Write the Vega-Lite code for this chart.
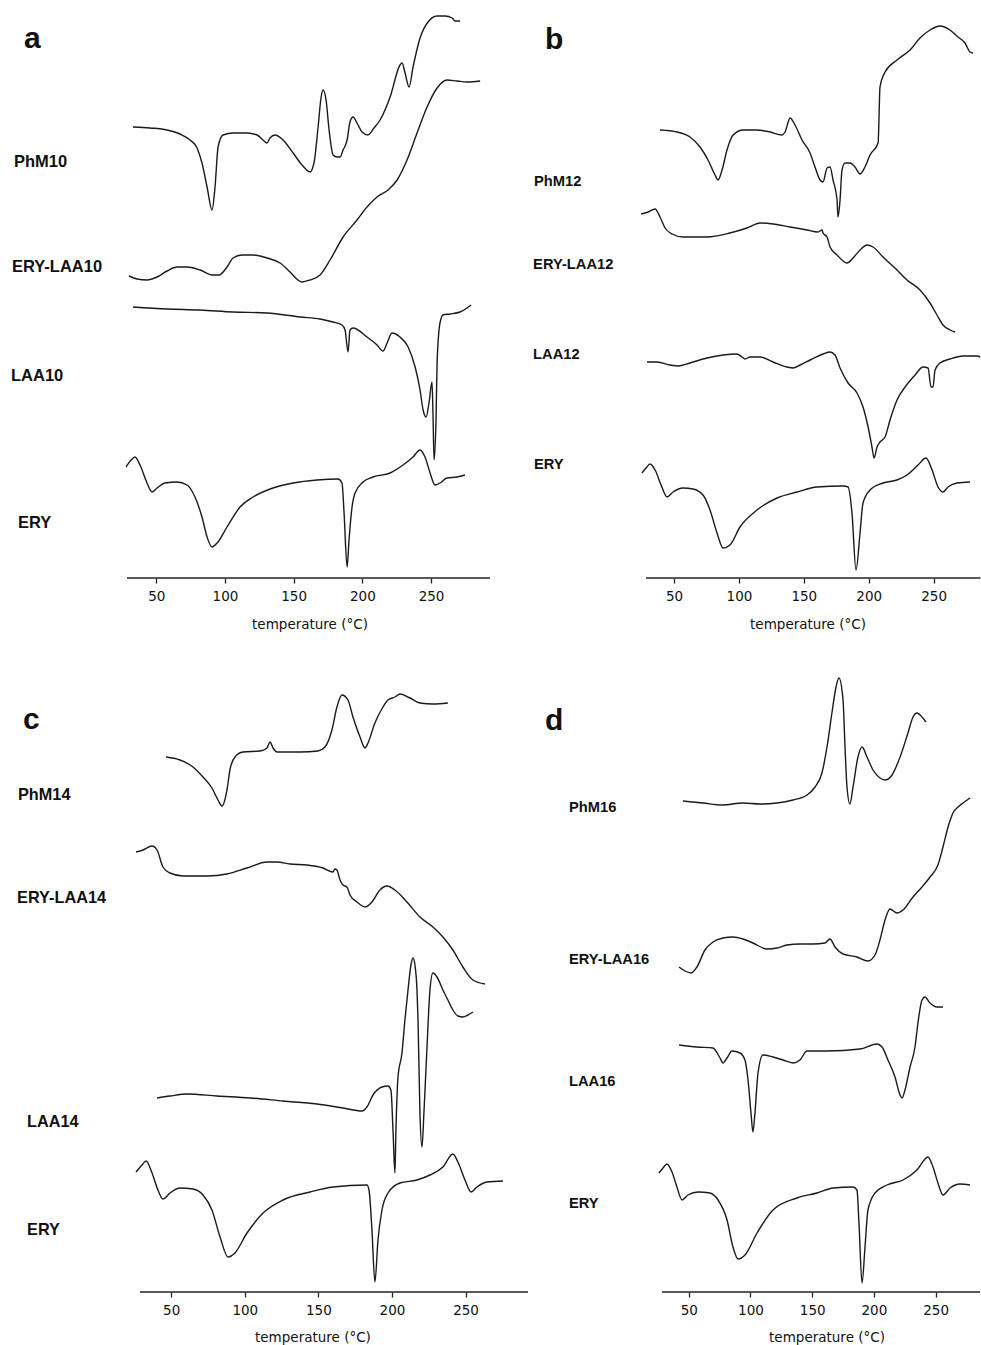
{
"$schema":"https://vega.github.io/schema/vega-lite/v6.json",
"padding":0,
"background":"white",
"columns":2,
"spacing":{"row":82,"column":0},
"bounds":"flush",
"config":{"view":{"stroke":null}},
"datasets":{
"a":[
{"s":"PhM10","T":33.1,"v":451},{"s":"PhM10","T":45.5,"v":450},{"s":"PhM10","T":57.9,"v":448},{"s":"PhM10","T":67.3,"v":444},{"s":"PhM10","T":74.6,"v":438},{"s":"PhM10","T":79.7,"v":430},{"s":"PhM10","T":83.3,"v":415},{"s":"PhM10","T":87.0,"v":391},{"s":"PhM10","T":90.6,"v":368},{"s":"PhM10","T":92.8,"v":391},{"s":"PhM10","T":95.0,"v":431},{"s":"PhM10","T":98.6,"v":443},{"s":"PhM10","T":105.9,"v":445},{"s":"PhM10","T":116.1,"v":445},{"s":"PhM10","T":123.4,"v":443},{"s":"PhM10","T":127.7,"v":438},{"s":"PhM10","T":130.6,"v":435},{"s":"PhM10","T":132.8,"v":440},{"s":"PhM10","T":136.5,"v":443},{"s":"PhM10","T":142.3,"v":438},{"s":"PhM10","T":149.6,"v":425},{"s":"PhM10","T":156.1,"v":413},{"s":"PhM10","T":161.9,"v":406},{"s":"PhM10","T":164.8,"v":415},{"s":"PhM10","T":167.8,"v":451},{"s":"PhM10","T":169.9,"v":480},{"s":"PhM10","T":171.4,"v":488},{"s":"PhM10","T":173.6,"v":478},{"s":"PhM10","T":175.8,"v":448},{"s":"PhM10","T":178.7,"v":423},{"s":"PhM10","T":181.6,"v":421},{"s":"PhM10","T":183.8,"v":421},{"s":"PhM10","T":186.0,"v":428},{"s":"PhM10","T":188.9,"v":438},{"s":"PhM10","T":191.0,"v":456},{"s":"PhM10","T":193.2,"v":461},{"s":"PhM10","T":196.1,"v":455},{"s":"PhM10","T":199.8,"v":446},{"s":"PhM10","T":204.1,"v":443},{"s":"PhM10","T":208.5,"v":450},{"s":"PhM10","T":212.9,"v":458},{"s":"PhM10","T":220.2,"v":481},{"s":"PhM10","T":227.4,"v":513},{"s":"PhM10","T":228.9,"v":515},{"s":"PhM10","T":231.1,"v":505},{"s":"PhM10","T":234.0,"v":491},{"s":"PhM10","T":236.9,"v":511},{"s":"PhM10","T":242.0,"v":540},{"s":"PhM10","T":247.8,"v":556},{"s":"PhM10","T":254.4,"v":562},{"s":"PhM10","T":260.2,"v":562},{"s":"PhM10","T":265.3,"v":560},{"s":"PhM10","T":267.5,"v":557},{"s":"PhM10","T":271.1,"v":557},
{"s":"ERY-LAA10","T":30.2,"v":302},{"s":"ERY-LAA10","T":36.0,"v":299},{"s":"ERY-LAA10","T":43.3,"v":298},{"s":"ERY-LAA10","T":50.6,"v":301},{"s":"ERY-LAA10","T":57.9,"v":307},{"s":"ERY-LAA10","T":65.1,"v":311},{"s":"ERY-LAA10","T":72.4,"v":311},{"s":"ERY-LAA10","T":81.9,"v":308},{"s":"ERY-LAA10","T":91.3,"v":303},{"s":"ERY-LAA10","T":95.7,"v":303},{"s":"ERY-LAA10","T":101.5,"v":311},{"s":"ERY-LAA10","T":105.9,"v":320},{"s":"ERY-LAA10","T":112.4,"v":323},{"s":"ERY-LAA10","T":120.5,"v":323},{"s":"ERY-LAA10","T":130.6,"v":320},{"s":"ERY-LAA10","T":140.1,"v":315},{"s":"ERY-LAA10","T":147.4,"v":306},{"s":"ERY-LAA10","T":153.2,"v":298},{"s":"ERY-LAA10","T":156.1,"v":296},{"s":"ERY-LAA10","T":161.9,"v":298},{"s":"ERY-LAA10","T":169.2,"v":303},{"s":"ERY-LAA10","T":176.5,"v":318},{"s":"ERY-LAA10","T":186.0,"v":341},{"s":"ERY-LAA10","T":196.1,"v":358},{"s":"ERY-LAA10","T":203.4,"v":371},{"s":"ERY-LAA10","T":210.7,"v":381},{"s":"ERY-LAA10","T":218.7,"v":388},{"s":"ERY-LAA10","T":225.3,"v":398},{"s":"ERY-LAA10","T":232.5,"v":418},{"s":"ERY-LAA10","T":239.8,"v":445},{"s":"ERY-LAA10","T":247.1,"v":471},{"s":"ERY-LAA10","T":254.4,"v":490},{"s":"ERY-LAA10","T":261.6,"v":498},{"s":"ERY-LAA10","T":268.9,"v":497},{"s":"ERY-LAA10","T":276.2,"v":496},{"s":"ERY-LAA10","T":285.7,"v":497},
{"s":"LAA10","T":33.1,"v":271},{"s":"LAA10","T":57.9,"v":269},{"s":"LAA10","T":81.9,"v":268},{"s":"LAA10","T":105.9,"v":266},{"s":"LAA10","T":130.6,"v":265},{"s":"LAA10","T":154.7,"v":261},{"s":"LAA10","T":169.2,"v":259},{"s":"LAA10","T":178.7,"v":256},{"s":"LAA10","T":185.2,"v":253},{"s":"LAA10","T":187.4,"v":248},{"s":"LAA10","T":189.6,"v":226},{"s":"LAA10","T":191.0,"v":248},{"s":"LAA10","T":193.2,"v":250},{"s":"LAA10","T":203.4,"v":241},{"s":"LAA10","T":210.7,"v":233},{"s":"LAA10","T":215.1,"v":227},{"s":"LAA10","T":218.0,"v":235},{"s":"LAA10","T":221.6,"v":245},{"s":"LAA10","T":227.4,"v":241},{"s":"LAA10","T":233.3,"v":231},{"s":"LAA10","T":238.4,"v":211},{"s":"LAA10","T":242.0,"v":188},{"s":"LAA10","T":244.2,"v":168},{"s":"LAA10","T":246.4,"v":161},{"s":"LAA10","T":248.5,"v":175},{"s":"LAA10","T":250.7,"v":196},{"s":"LAA10","T":251.5,"v":158},{"s":"LAA10","T":252.2,"v":118},{"s":"LAA10","T":253.6,"v":158},{"s":"LAA10","T":254.4,"v":215},{"s":"LAA10","T":256.5,"v":255},{"s":"LAA10","T":258.7,"v":263},{"s":"LAA10","T":263.8,"v":264},{"s":"LAA10","T":271.1,"v":266},{"s":"LAA10","T":276.2,"v":270},{"s":"LAA10","T":279.1,"v":273},
{"s":"ERY","T":28.0,"v":111},{"s":"ERY","T":31.7,"v":118},{"s":"ERY","T":34.6,"v":121},{"s":"ERY","T":38.2,"v":113},{"s":"ERY","T":43.3,"v":95},{"s":"ERY","T":46.9,"v":86},{"s":"ERY","T":50.6,"v":90},{"s":"ERY","T":56.4,"v":95},{"s":"ERY","T":65.1,"v":96},{"s":"ERY","T":72.4,"v":93},{"s":"ERY","T":78.2,"v":81},{"s":"ERY","T":83.3,"v":61},{"s":"ERY","T":87.0,"v":41},{"s":"ERY","T":90.6,"v":31},{"s":"ERY","T":94.3,"v":35},{"s":"ERY","T":101.5,"v":51},{"s":"ERY","T":111.0,"v":71},{"s":"ERY","T":120.5,"v":81},{"s":"ERY","T":135.0,"v":90},{"s":"ERY","T":149.6,"v":95},{"s":"ERY","T":167.0,"v":98},{"s":"ERY","T":182.3,"v":99},{"s":"ERY","T":185.2,"v":95},{"s":"ERY","T":186.7,"v":65},{"s":"ERY","T":188.9,"v":11},{"s":"ERY","T":190.3,"v":38},{"s":"ERY","T":192.5,"v":71},{"s":"ERY","T":194.7,"v":85},{"s":"ERY","T":200.5,"v":96},{"s":"ERY","T":207.8,"v":101},{"s":"ERY","T":220.2,"v":105},{"s":"ERY","T":229.6,"v":113},{"s":"ERY","T":236.9,"v":121},{"s":"ERY","T":242.0,"v":128},{"s":"ERY","T":245.6,"v":121},{"s":"ERY","T":249.3,"v":105},{"s":"ERY","T":252.9,"v":93},{"s":"ERY","T":256.5,"v":95},{"s":"ERY","T":261.6,"v":100},{"s":"ERY","T":268.9,"v":101},{"s":"ERY","T":274.7,"v":103}
],
"b":[
{"s":"PhM12","T":39.2,"v":448},{"s":"PhM12","T":52.3,"v":446},{"s":"PhM12","T":62.3,"v":441},{"s":"PhM12","T":70.0,"v":431},{"s":"PhM12","T":76.2,"v":418},{"s":"PhM12","T":81.6,"v":403},{"s":"PhM12","T":83.9,"v":398},{"s":"PhM12","T":87.0,"v":408},{"s":"PhM12","T":90.8,"v":428},{"s":"PhM12","T":95.5,"v":443},{"s":"PhM12","T":103.2,"v":448},{"s":"PhM12","T":113.9,"v":448},{"s":"PhM12","T":124.0,"v":446},{"s":"PhM12","T":133.2,"v":443},{"s":"PhM12","T":135.5,"v":446},{"s":"PhM12","T":139.4,"v":460},{"s":"PhM12","T":143.2,"v":453},{"s":"PhM12","T":148.6,"v":438},{"s":"PhM12","T":154.8,"v":425},{"s":"PhM12","T":158.6,"v":411},{"s":"PhM12","T":162.5,"v":398},{"s":"PhM12","T":164.8,"v":396},{"s":"PhM12","T":167.9,"v":410},{"s":"PhM12","T":170.2,"v":411},{"s":"PhM12","T":172.5,"v":398},{"s":"PhM12","T":175.6,"v":378},{"s":"PhM12","T":176.3,"v":361},{"s":"PhM12","T":177.9,"v":378},{"s":"PhM12","T":179.4,"v":408},{"s":"PhM12","T":181.7,"v":415},{"s":"PhM12","T":185.6,"v":415},{"s":"PhM12","T":189.4,"v":411},{"s":"PhM12","T":193.3,"v":404},{"s":"PhM12","T":197.1,"v":411},{"s":"PhM12","T":201.0,"v":423},{"s":"PhM12","T":207.2,"v":435},{"s":"PhM12","T":208.7,"v":491},{"s":"PhM12","T":212.6,"v":506},{"s":"PhM12","T":221.8,"v":518},{"s":"PhM12","T":231.8,"v":528},{"s":"PhM12","T":239.5,"v":540},{"s":"PhM12","T":247.2,"v":548},{"s":"PhM12","T":254.9,"v":552},{"s":"PhM12","T":262.6,"v":548},{"s":"PhM12","T":268.8,"v":541},{"s":"PhM12","T":274.2,"v":535},{"s":"PhM12","T":278.0,"v":526},{"s":"PhM12","T":280.4,"v":525},
{"s":"ERY-LAA12","T":24.6,"v":364},{"s":"ERY-LAA12","T":30.0,"v":366},{"s":"ERY-LAA12","T":35.4,"v":369},{"s":"ERY-LAA12","T":39.2,"v":361},{"s":"ERY-LAA12","T":43.1,"v":350},{"s":"ERY-LAA12","T":48.5,"v":344},{"s":"ERY-LAA12","T":56.9,"v":341},{"s":"ERY-LAA12","T":75.4,"v":341},{"s":"ERY-LAA12","T":93.1,"v":345},{"s":"ERY-LAA12","T":106.2,"v":350},{"s":"ERY-LAA12","T":116.3,"v":355},{"s":"ERY-LAA12","T":126.3,"v":354},{"s":"ERY-LAA12","T":139.4,"v":351},{"s":"ERY-LAA12","T":152.5,"v":348},{"s":"ERY-LAA12","T":160.9,"v":346},{"s":"ERY-LAA12","T":164.0,"v":348},{"s":"ERY-LAA12","T":164.8,"v":345},{"s":"ERY-LAA12","T":167.9,"v":341},{"s":"ERY-LAA12","T":170.2,"v":331},{"s":"ERY-LAA12","T":175.6,"v":323},{"s":"ERY-LAA12","T":183.3,"v":315},{"s":"ERY-LAA12","T":187.9,"v":320},{"s":"ERY-LAA12","T":193.3,"v":328},{"s":"ERY-LAA12","T":198.7,"v":333},{"s":"ERY-LAA12","T":203.3,"v":331},{"s":"ERY-LAA12","T":211.0,"v":321},{"s":"ERY-LAA12","T":221.8,"v":308},{"s":"ERY-LAA12","T":229.5,"v":298},{"s":"ERY-LAA12","T":239.5,"v":288},{"s":"ERY-LAA12","T":247.2,"v":275},{"s":"ERY-LAA12","T":252.6,"v":263},{"s":"ERY-LAA12","T":257.2,"v":253},{"s":"ERY-LAA12","T":262.6,"v":248},{"s":"ERY-LAA12","T":266.5,"v":246},
{"s":"LAA12","T":29.2,"v":216},{"s":"LAA12","T":36.9,"v":216},{"s":"LAA12","T":46.9,"v":213},{"s":"LAA12","T":53.1,"v":212},{"s":"LAA12","T":62.3,"v":215},{"s":"LAA12","T":75.4,"v":220},{"s":"LAA12","T":87.8,"v":223},{"s":"LAA12","T":98.5,"v":224},{"s":"LAA12","T":102.4,"v":221},{"s":"LAA12","T":104.7,"v":219},{"s":"LAA12","T":108.6,"v":221},{"s":"LAA12","T":116.3,"v":221},{"s":"LAA12","T":126.3,"v":216},{"s":"LAA12","T":137.1,"v":211},{"s":"LAA12","T":141.7,"v":210},{"s":"LAA12","T":147.1,"v":213},{"s":"LAA12","T":154.8,"v":218},{"s":"LAA12","T":164.8,"v":224},{"s":"LAA12","T":170.2,"v":226},{"s":"LAA12","T":174.0,"v":223},{"s":"LAA12","T":177.9,"v":210},{"s":"LAA12","T":184.1,"v":195},{"s":"LAA12","T":191.0,"v":185},{"s":"LAA12","T":195.6,"v":171},{"s":"LAA12","T":199.5,"v":151},{"s":"LAA12","T":202.5,"v":131},{"s":"LAA12","T":204.1,"v":120},{"s":"LAA12","T":206.4,"v":131},{"s":"LAA12","T":208.7,"v":136},{"s":"LAA12","T":212.6,"v":141},{"s":"LAA12","T":216.4,"v":158},{"s":"LAA12","T":221.8,"v":178},{"s":"LAA12","T":228.0,"v":191},{"s":"LAA12","T":235.7,"v":203},{"s":"LAA12","T":241.8,"v":211},{"s":"LAA12","T":245.7,"v":210},{"s":"LAA12","T":248.0,"v":191},{"s":"LAA12","T":249.5,"v":191},{"s":"LAA12","T":251.1,"v":208},{"s":"LAA12","T":254.9,"v":215},{"s":"LAA12","T":262.6,"v":219},{"s":"LAA12","T":272.6,"v":222},{"s":"LAA12","T":283.4,"v":222},{"s":"LAA12","T":285.8,"v":221},
{"s":"ERY","T":25.3,"v":105},{"s":"ERY","T":28.4,"v":110},{"s":"ERY","T":31.5,"v":114},{"s":"ERY","T":35.4,"v":108},{"s":"ERY","T":40.0,"v":93},{"s":"ERY","T":44.6,"v":81},{"s":"ERY","T":49.2,"v":86},{"s":"ERY","T":56.9,"v":90},{"s":"ERY","T":64.6,"v":89},{"s":"ERY","T":72.3,"v":83},{"s":"ERY","T":77.7,"v":68},{"s":"ERY","T":83.1,"v":45},{"s":"ERY","T":87.8,"v":30},{"s":"ERY","T":93.1,"v":33},{"s":"ERY","T":100.8,"v":51},{"s":"ERY","T":113.9,"v":68},{"s":"ERY","T":129.4,"v":80},{"s":"ERY","T":144.8,"v":86},{"s":"ERY","T":160.2,"v":91},{"s":"ERY","T":180.2,"v":92},{"s":"ERY","T":184.1,"v":91},{"s":"ERY","T":187.1,"v":65},{"s":"ERY","T":190.2,"v":8},{"s":"ERY","T":193.3,"v":45},{"s":"ERY","T":195.6,"v":75},{"s":"ERY","T":201.0,"v":88},{"s":"ERY","T":211.0,"v":95},{"s":"ERY","T":221.8,"v":98},{"s":"ERY","T":229.5,"v":103},{"s":"ERY","T":238.0,"v":113},{"s":"ERY","T":244.1,"v":120},{"s":"ERY","T":248.8,"v":108},{"s":"ERY","T":253.4,"v":91},{"s":"ERY","T":257.2,"v":86},{"s":"ERY","T":261.1,"v":91},{"s":"ERY","T":268.0,"v":95},{"s":"ERY","T":278.0,"v":96}
],
"c":[
{"s":"PhM14","T":46.5,"v":535},{"s":"PhM14","T":56.0,"v":532},{"s":"PhM14","T":64.8,"v":525},{"s":"PhM14","T":71.6,"v":515},{"s":"PhM14","T":77.7,"v":504},{"s":"PhM14","T":81.8,"v":492},{"s":"PhM14","T":84.5,"v":486},{"s":"PhM14","T":87.9,"v":502},{"s":"PhM14","T":89.9,"v":522},{"s":"PhM14","T":93.3,"v":535},{"s":"PhM14","T":98.8,"v":540},{"s":"PhM14","T":110.3,"v":541},{"s":"PhM14","T":115.1,"v":544},{"s":"PhM14","T":117.1,"v":550},{"s":"PhM14","T":119.2,"v":544},{"s":"PhM14","T":121.9,"v":540},{"s":"PhM14","T":137.5,"v":540},{"s":"PhM14","T":149.7,"v":541},{"s":"PhM14","T":154.5,"v":545},{"s":"PhM14","T":159.2,"v":562},{"s":"PhM14","T":162.6,"v":585},{"s":"PhM14","T":166.0,"v":597},{"s":"PhM14","T":170.1,"v":592},{"s":"PhM14","T":173.5,"v":575},{"s":"PhM14","T":178.3,"v":555},{"s":"PhM14","T":181.7,"v":544},{"s":"PhM14","T":183.7,"v":549},{"s":"PhM14","T":188.4,"v":569},{"s":"PhM14","T":193.9,"v":585},{"s":"PhM14","T":197.3,"v":592},{"s":"PhM14","T":202.0,"v":595},{"s":"PhM14","T":205.4,"v":598},{"s":"PhM14","T":212.2,"v":594},{"s":"PhM14","T":219.0,"v":589},{"s":"PhM14","T":227.8,"v":588},{"s":"PhM14","T":238.0,"v":589},
{"s":"ERY-LAA14","T":26.1,"v":440},{"s":"ERY-LAA14","T":30.9,"v":442},{"s":"ERY-LAA14","T":37.0,"v":446},{"s":"ERY-LAA14","T":40.4,"v":442},{"s":"ERY-LAA14","T":44.4,"v":425},{"s":"ERY-LAA14","T":49.2,"v":419},{"s":"ERY-LAA14","T":58.0,"v":416},{"s":"ERY-LAA14","T":74.3,"v":416},{"s":"ERY-LAA14","T":87.9,"v":418},{"s":"ERY-LAA14","T":101.5,"v":424},{"s":"ERY-LAA14","T":115.1,"v":430},{"s":"ERY-LAA14","T":121.9,"v":430},{"s":"ERY-LAA14","T":130.7,"v":428},{"s":"ERY-LAA14","T":142.3,"v":427},{"s":"ERY-LAA14","T":153.1,"v":424},{"s":"ERY-LAA14","T":159.9,"v":420},{"s":"ERY-LAA14","T":161.3,"v":423},{"s":"ERY-LAA14","T":162.6,"v":422},{"s":"ERY-LAA14","T":164.7,"v":412},{"s":"ERY-LAA14","T":166.7,"v":407},{"s":"ERY-LAA14","T":169.4,"v":405},{"s":"ERY-LAA14","T":171.5,"v":397},{"s":"ERY-LAA14","T":176.2,"v":390},{"s":"ERY-LAA14","T":181.7,"v":385},{"s":"ERY-LAA14","T":186.4,"v":390},{"s":"ERY-LAA14","T":191.8,"v":402},{"s":"ERY-LAA14","T":196.6,"v":406},{"s":"ERY-LAA14","T":202.0,"v":402},{"s":"ERY-LAA14","T":210.2,"v":390},{"s":"ERY-LAA14","T":219.0,"v":375},{"s":"ERY-LAA14","T":227.8,"v":365},{"s":"ERY-LAA14","T":234.6,"v":355},{"s":"ERY-LAA14","T":241.4,"v":342},{"s":"ERY-LAA14","T":248.2,"v":325},{"s":"ERY-LAA14","T":255.0,"v":312},{"s":"ERY-LAA14","T":263.2,"v":308},
{"s":"LAA14","T":40.4,"v":194},{"s":"LAA14","T":49.2,"v":196},{"s":"LAA14","T":60.7,"v":198},{"s":"LAA14","T":81.1,"v":196},{"s":"LAA14","T":103.5,"v":194},{"s":"LAA14","T":126.0,"v":191},{"s":"LAA14","T":149.0,"v":188},{"s":"LAA14","T":166.7,"v":184},{"s":"LAA14","T":179.6,"v":181},{"s":"LAA14","T":183.0,"v":185},{"s":"LAA14","T":187.1,"v":197},{"s":"LAA14","T":193.2,"v":205},{"s":"LAA14","T":197.3,"v":206},{"s":"LAA14","T":199.3,"v":202},{"s":"LAA14","T":200.7,"v":162},{"s":"LAA14","T":202.0,"v":119},{"s":"LAA14","T":202.7,"v":162},{"s":"LAA14","T":204.1,"v":215},{"s":"LAA14","T":206.8,"v":239},{"s":"LAA14","T":208.8,"v":272},{"s":"LAA14","T":210.9,"v":302},{"s":"LAA14","T":212.9,"v":327},{"s":"LAA14","T":214.3,"v":334},{"s":"LAA14","T":215.6,"v":327},{"s":"LAA14","T":217.0,"v":302},{"s":"LAA14","T":217.7,"v":272},{"s":"LAA14","T":219.0,"v":179},{"s":"LAA14","T":220.4,"v":145},{"s":"LAA14","T":221.7,"v":179},{"s":"LAA14","T":223.8,"v":245},{"s":"LAA14","T":225.8,"v":302},{"s":"LAA14","T":227.8,"v":319},{"s":"LAA14","T":230.6,"v":315},{"s":"LAA14","T":234.6,"v":302},{"s":"LAA14","T":238.0,"v":292},{"s":"LAA14","T":241.4,"v":282},{"s":"LAA14","T":244.8,"v":276},{"s":"LAA14","T":248.2,"v":275},{"s":"LAA14","T":251.6,"v":277},{"s":"LAA14","T":255.0,"v":280},
{"s":"ERY","T":26.1,"v":120},{"s":"ERY","T":30.2,"v":127},{"s":"ERY","T":32.9,"v":131},{"s":"ERY","T":37.0,"v":119},{"s":"ERY","T":41.0,"v":102},{"s":"ERY","T":44.4,"v":93},{"s":"ERY","T":49.2,"v":99},{"s":"ERY","T":56.0,"v":104},{"s":"ERY","T":64.8,"v":103},{"s":"ERY","T":71.6,"v":97},{"s":"ERY","T":77.7,"v":82},{"s":"ERY","T":83.2,"v":55},{"s":"ERY","T":88.6,"v":35},{"s":"ERY","T":93.3,"v":39},{"s":"ERY","T":101.5,"v":59},{"s":"ERY","T":112.4,"v":79},{"s":"ERY","T":126.0,"v":92},{"s":"ERY","T":144.3,"v":100},{"s":"ERY","T":159.9,"v":105},{"s":"ERY","T":183.0,"v":107},{"s":"ERY","T":184.4,"v":102},{"s":"ERY","T":186.4,"v":62},{"s":"ERY","T":188.4,"v":10},{"s":"ERY","T":190.5,"v":52},{"s":"ERY","T":193.2,"v":82},{"s":"ERY","T":197.3,"v":99},{"s":"ERY","T":205.4,"v":109},{"s":"ERY","T":217.0,"v":112},{"s":"ERY","T":225.8,"v":117},{"s":"ERY","T":234.6,"v":125},{"s":"ERY","T":241.4,"v":138},{"s":"ERY","T":244.8,"v":130},{"s":"ERY","T":249.6,"v":112},{"s":"ERY","T":253.7,"v":100},{"s":"ERY","T":257.7,"v":105},{"s":"ERY","T":264.5,"v":110},{"s":"ERY","T":275.4,"v":111}
],
"d":[
{"s":"PhM16","T":45.3,"v":491},{"s":"PhM16","T":61.5,"v":489},{"s":"PhM16","T":76.9,"v":487},{"s":"PhM16","T":93.9,"v":489},{"s":"PhM16","T":107.7,"v":488},{"s":"PhM16","T":121.5,"v":489},{"s":"PhM16","T":134.4,"v":492},{"s":"PhM16","T":145.8,"v":497},{"s":"PhM16","T":152.3,"v":505},{"s":"PhM16","T":157.9,"v":519},{"s":"PhM16","T":162.0,"v":545},{"s":"PhM16","T":166.0,"v":579},{"s":"PhM16","T":169.3,"v":605},{"s":"PhM16","T":171.7,"v":614},{"s":"PhM16","T":175.0,"v":592},{"s":"PhM16","T":176.6,"v":545},{"s":"PhM16","T":178.2,"v":505},{"s":"PhM16","T":180.6,"v":488},{"s":"PhM16","T":183.1,"v":505},{"s":"PhM16","T":187.1,"v":535},{"s":"PhM16","T":190.4,"v":545},{"s":"PhM16","T":194.4,"v":535},{"s":"PhM16","T":199.3,"v":522},{"s":"PhM16","T":204.9,"v":514},{"s":"PhM16","T":209.0,"v":512},{"s":"PhM16","T":214.7,"v":517},{"s":"PhM16","T":221.2,"v":535},{"s":"PhM16","T":227.6,"v":559},{"s":"PhM16","T":231.7,"v":575},{"s":"PhM16","T":234.9,"v":579},{"s":"PhM16","T":239.0,"v":575},{"s":"PhM16","T":242.2,"v":570},
{"s":"ERY-LAA16","T":42.1,"v":325},{"s":"ERY-LAA16","T":46.9,"v":321},{"s":"ERY-LAA16","T":51.8,"v":319},{"s":"ERY-LAA16","T":56.6,"v":325},{"s":"ERY-LAA16","T":63.1,"v":342},{"s":"ERY-LAA16","T":69.6,"v":350},{"s":"ERY-LAA16","T":77.7,"v":354},{"s":"ERY-LAA16","T":85.8,"v":355},{"s":"ERY-LAA16","T":93.9,"v":353},{"s":"ERY-LAA16","T":102.0,"v":349},{"s":"ERY-LAA16","T":113.4,"v":343},{"s":"ERY-LAA16","T":121.5,"v":344},{"s":"ERY-LAA16","T":129.6,"v":347},{"s":"ERY-LAA16","T":140.1,"v":348},{"s":"ERY-LAA16","T":150.6,"v":348},{"s":"ERY-LAA16","T":160.4,"v":349},{"s":"ERY-LAA16","T":164.4,"v":353},{"s":"ERY-LAA16","T":168.5,"v":345},{"s":"ERY-LAA16","T":175.0,"v":338},{"s":"ERY-LAA16","T":186.3,"v":335},{"s":"ERY-LAA16","T":195.2,"v":331},{"s":"ERY-LAA16","T":200.9,"v":337},{"s":"ERY-LAA16","T":204.9,"v":352},{"s":"ERY-LAA16","T":209.0,"v":372},{"s":"ERY-LAA16","T":213.0,"v":383},{"s":"ERY-LAA16","T":218.7,"v":379},{"s":"ERY-LAA16","T":223.6,"v":382},{"s":"ERY-LAA16","T":231.7,"v":395},{"s":"ERY-LAA16","T":239.0,"v":405},{"s":"ERY-LAA16","T":245.5,"v":415},{"s":"ERY-LAA16","T":251.9,"v":427},{"s":"ERY-LAA16","T":256.0,"v":445},{"s":"ERY-LAA16","T":260.1,"v":465},{"s":"ERY-LAA16","T":264.1,"v":479},{"s":"ERY-LAA16","T":268.2,"v":485},{"s":"ERY-LAA16","T":272.2,"v":489},{"s":"ERY-LAA16","T":277.9,"v":494},
{"s":"LAA16","T":42.1,"v":247},{"s":"LAA16","T":56.6,"v":245},{"s":"LAA16","T":69.6,"v":244},{"s":"LAA16","T":75.3,"v":234},{"s":"LAA16","T":77.7,"v":229},{"s":"LAA16","T":81.0,"v":234},{"s":"LAA16","T":85.0,"v":241},{"s":"LAA16","T":91.5,"v":239},{"s":"LAA16","T":95.5,"v":232},{"s":"LAA16","T":98.0,"v":212},{"s":"LAA16","T":100.4,"v":179},{"s":"LAA16","T":102.0,"v":160},{"s":"LAA16","T":103.6,"v":179},{"s":"LAA16","T":106.1,"v":219},{"s":"LAA16","T":110.1,"v":237},{"s":"LAA16","T":118.2,"v":235},{"s":"LAA16","T":126.3,"v":232},{"s":"LAA16","T":134.4,"v":229},{"s":"LAA16","T":140.1,"v":232},{"s":"LAA16","T":145.8,"v":241},{"s":"LAA16","T":162.0,"v":241},{"s":"LAA16","T":188.7,"v":243},{"s":"LAA16","T":202.5,"v":248},{"s":"LAA16","T":206.6,"v":245},{"s":"LAA16","T":211.4,"v":232},{"s":"LAA16","T":217.1,"v":215},{"s":"LAA16","T":221.2,"v":197},{"s":"LAA16","T":222.8,"v":194},{"s":"LAA16","T":225.2,"v":202},{"s":"LAA16","T":229.3,"v":225},{"s":"LAA16","T":233.3,"v":245},{"s":"LAA16","T":235.7,"v":269},{"s":"LAA16","T":239.0,"v":292},{"s":"LAA16","T":241.4,"v":295},{"s":"LAA16","T":245.5,"v":289},{"s":"LAA16","T":251.1,"v":285},{"s":"LAA16","T":256.0,"v":285},
{"s":"ERY","T":25.8,"v":119},{"s":"ERY","T":29.1,"v":124},{"s":"ERY","T":32.3,"v":128},{"s":"ERY","T":36.4,"v":120},{"s":"ERY","T":40.4,"v":105},{"s":"ERY","T":44.5,"v":92},{"s":"ERY","T":49.3,"v":97},{"s":"ERY","T":57.5,"v":100},{"s":"ERY","T":67.2,"v":99},{"s":"ERY","T":73.7,"v":92},{"s":"ERY","T":81.0,"v":72},{"s":"ERY","T":85.8,"v":45},{"s":"ERY","T":89.9,"v":33},{"s":"ERY","T":95.5,"v":37},{"s":"ERY","T":105.3,"v":59},{"s":"ERY","T":118.2,"v":82},{"s":"ERY","T":137.7,"v":94},{"s":"ERY","T":153.9,"v":99},{"s":"ERY","T":166.9,"v":104},{"s":"ERY","T":183.1,"v":105},{"s":"ERY","T":186.3,"v":102},{"s":"ERY","T":187.9,"v":69},{"s":"ERY","T":190.4,"v":9},{"s":"ERY","T":192.8,"v":45},{"s":"ERY","T":195.2,"v":82},{"s":"ERY","T":200.9,"v":99},{"s":"ERY","T":210.6,"v":107},{"s":"ERY","T":223.6,"v":112},{"s":"ERY","T":234.9,"v":122},{"s":"ERY","T":243.8,"v":135},{"s":"ERY","T":247.9,"v":125},{"s":"ERY","T":251.9,"v":109},{"s":"ERY","T":256.0,"v":97},{"s":"ERY","T":261.7,"v":104},{"s":"ERY","T":269.8,"v":108},{"s":"ERY","T":277.9,"v":107}
],
"la":[{"t":"PhM10","T":-53.5,"v":416},{"t":"ERY-LAA10","T":-55.0,"v":311},{"t":"LAA10","T":-55.7,"v":202},{"t":"ERY","T":-50.6,"v":55}],
"lb":[{"t":"PhM12","T":-57.9,"v":396},{"t":"ERY-LAA12","T":-58.6,"v":313},{"t":"LAA12","T":-58.6,"v":223},{"t":"ERY","T":-57.9,"v":113}],
"lc":[{"t":"PhM14","T":-54.1,"v":497},{"t":"ERY-LAA14","T":-54.7,"v":394},{"t":"LAA14","T":-47.9,"v":170},{"t":"ERY","T":-47.9,"v":62}],
"ld":[{"t":"PhM16","T":-47.1,"v":484},{"t":"ERY-LAA16","T":-47.1,"v":332},{"t":"LAA16","T":-47.1,"v":210},{"t":"ERY","T":-47.1,"v":88}]
},
"concat":[
{"width":490,"height":578,
"encoding":{"x":{"field":"T","type":"quantitative","scale":{"domain":[-63.7,292.9],"nice":false,"zero":false},"axis":{"values":[50,100,150,200,250],"domain":false,"grid":false,"title":null,"labelFont":"DejaVu Sans","labelFontSize":13.5,"labelColor":"#111","tickColor":"#222","tickSize":5,"tickWidth":1.3,"labelPadding":6,"labelFlush":false,"labelOverlap":false}},
"y":{"field":"v","type":"quantitative","scale":{"domain":[0,578],"nice":false,"zero":false},"axis":null}},
"layer":[
{"data":{"name":"a"},"mark":{"type":"line","color":"#1a1a1a","strokeWidth":1.4,"interpolate":"monotone"},"encoding":{"detail":{"field":"s"}}},
{"data":{"values":[{"T":28.7,"T2":292.9,"v":0}]},"mark":{"type":"rule","color":"#222","strokeWidth":1.7},"encoding":{"x2":{"field":"T2"}}},
{"data":{"name":"la"},"mark":{"type":"text","align":"left","baseline":"middle","font":"Liberation Sans","fontWeight":"bold","fontSize":16.5,"color":"#111"},"encoding":{"text":{"field":"t"}}},
{"data":{"values":[{"t":"a","T":-46.2,"v":530}]},"mark":{"type":"text","align":"left","baseline":"alphabetic","font":"Liberation Sans","fontWeight":"bold","fontSize":30,"color":"#111"},"encoding":{"text":{"field":"t"}}},
{"data":{"values":[{"t":"temperature (°C)","T":161.9,"v":-47}]},"mark":{"type":"text","align":"center","baseline":"middle","font":"DejaVu Sans","fontSize":13.5,"color":"#111"},"encoding":{"text":{"field":"t"}}}
]},
{"width":491,"height":578,
"encoding":{"x":{"field":"T","type":"quantitative","scale":{"domain":[-91.8,286.5],"nice":false,"zero":false},"axis":{"values":[50,100,150,200,250],"domain":false,"grid":false,"title":null,"labelFont":"DejaVu Sans","labelFontSize":13.5,"labelColor":"#111","tickColor":"#222","tickSize":5,"tickWidth":1.3,"labelPadding":6,"labelFlush":false,"labelOverlap":false}},
"y":{"field":"v","type":"quantitative","scale":{"domain":[0,578],"nice":false,"zero":false},"axis":null}},
"layer":[
{"data":{"name":"b"},"mark":{"type":"line","color":"#1a1a1a","strokeWidth":1.4,"interpolate":"monotone"},"encoding":{"detail":{"field":"s"}}},
{"data":{"values":[{"T":28.4,"T2":286.0,"v":0}]},"mark":{"type":"rule","color":"#222","strokeWidth":1.7},"encoding":{"x2":{"field":"T2"}}},
{"data":{"name":"lb"},"mark":{"type":"text","align":"left","baseline":"middle","font":"Liberation Sans","fontWeight":"bold","fontSize":14.7,"color":"#111"},"encoding":{"text":{"field":"t"}}},
{"data":{"values":[{"t":"b","T":-49.4,"v":529}]},"mark":{"type":"text","align":"left","baseline":"alphabetic","font":"Liberation Sans","fontWeight":"bold","fontSize":30,"color":"#111"},"encoding":{"text":{"field":"t"}}},
{"data":{"values":[{"t":"temperature (°C)","T":153.2,"v":-47}]},"mark":{"type":"text","align":"center","baseline":"middle","font":"DejaVu Sans","fontSize":13.5,"color":"#111"},"encoding":{"text":{"field":"t"}}}
]},
{"width":490,"height":632,
"encoding":{"x":{"field":"T","type":"quantitative","scale":{"domain":[-66.3,266.6],"nice":false,"zero":false},"axis":{"values":[50,100,150,200,250],"domain":false,"grid":false,"title":null,"labelFont":"DejaVu Sans","labelFontSize":13.5,"labelColor":"#111","tickColor":"#222","tickSize":5,"tickWidth":1.3,"labelPadding":6,"labelFlush":false,"labelOverlap":false}},
"y":{"field":"v","type":"quantitative","scale":{"domain":[0,632],"nice":false,"zero":false},"axis":null}},
"layer":[
{"data":{"name":"c"},"mark":{"type":"line","color":"#1a1a1a","strokeWidth":1.4,"interpolate":"monotone"},"encoding":{"detail":{"field":"s"}}},
{"data":{"values":[{"T":28.8,"T2":292.4,"v":0}]},"mark":{"type":"rule","color":"#222","strokeWidth":1.7},"encoding":{"x2":{"field":"T2"}}},
{"data":{"name":"lc"},"mark":{"type":"text","align":"left","baseline":"middle","font":"Liberation Sans","fontWeight":"bold","fontSize":16.3,"color":"#111"},"encoding":{"text":{"field":"t"}}},
{"data":{"values":[{"t":"c","T":-50.7,"v":563}]},"mark":{"type":"text","align":"left","baseline":"alphabetic","font":"Liberation Sans","fontWeight":"bold","fontSize":30,"color":"#111"},"encoding":{"text":{"field":"t"}}},
{"data":{"values":[{"t":"temperature (°C)","T":146.3,"v":-46}]},"mark":{"type":"text","align":"center","baseline":"middle","font":"DejaVu Sans","fontSize":13.5,"color":"#111"},"encoding":{"text":{"field":"t"}}}
]},
{"width":491,"height":632,
"encoding":{"x":{"field":"T","type":"quantitative","scale":{"domain":[-111.1,286.8],"nice":false,"zero":false},"axis":{"values":[50,100,150,200,250],"domain":false,"grid":false,"title":null,"labelFont":"DejaVu Sans","labelFontSize":13.5,"labelColor":"#111","tickColor":"#222","tickSize":5,"tickWidth":1.3,"labelPadding":6,"labelFlush":false,"labelOverlap":false}},
"y":{"field":"v","type":"quantitative","scale":{"domain":[0,632],"nice":false,"zero":false},"axis":null}},
"layer":[
{"data":{"name":"d"},"mark":{"type":"line","color":"#1a1a1a","strokeWidth":1.4,"interpolate":"monotone"},"encoding":{"detail":{"field":"s"}}},
{"data":{"values":[{"T":28.3,"T2":286.0,"v":0}]},"mark":{"type":"rule","color":"#222","strokeWidth":1.7},"encoding":{"x2":{"field":"T2"}}},
{"data":{"name":"ld"},"mark":{"type":"text","align":"left","baseline":"middle","font":"Liberation Sans","fontWeight":"bold","fontSize":14.7,"color":"#111"},"encoding":{"text":{"field":"t"}}},
{"data":{"values":[{"t":"d","T":-66.5,"v":562}]},"mark":{"type":"text","align":"left","baseline":"alphabetic","font":"Liberation Sans","fontWeight":"bold","fontSize":30,"color":"#111"},"encoding":{"text":{"field":"t"}}},
{"data":{"values":[{"t":"temperature (°C)","T":162.0,"v":-46}]},"mark":{"type":"text","align":"center","baseline":"middle","font":"DejaVu Sans","fontSize":13.5,"color":"#111"},"encoding":{"text":{"field":"t"}}}
]}
]
}
